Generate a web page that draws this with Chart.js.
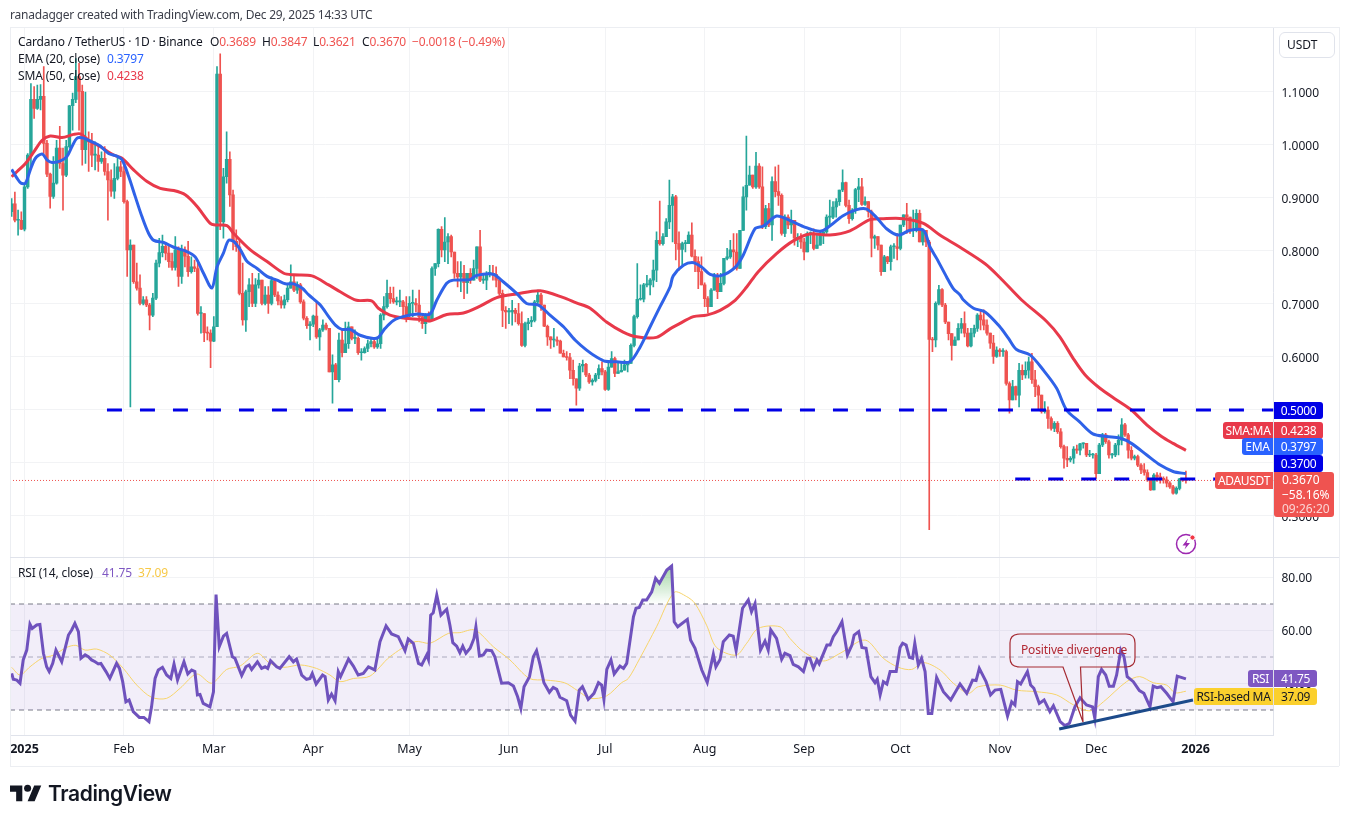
<!DOCTYPE html>
<html>
<head>
<meta charset="utf-8">
<title>ADAUSDT</title>
<script src="https://cdn.jsdelivr.net/npm/chart.js@4"></script>
<style>
  html, body { margin: 0; padding: 0; background: #fff; overflow: hidden; }
  #wrap { position: relative; width: 1349px; height: 823px; font: 12px "Noto Sans", sans-serif; color: #131722; }
  #wrap canvas { position: absolute; left: 0; top: 0; }
  .t { position: absolute; white-space: nowrap; line-height: 16px; letter-spacing: -0.15px; }
  .pill { position: absolute; color: #fff; line-height: 17px; height: 17px; text-align: center; box-sizing: border-box; white-space: nowrap; letter-spacing: -0.3px; }
  .r { color: #ef5350; }
  .rule { position: absolute; background: #e0e3eb; }
</style>
</head>
<body>
<div id="wrap">
  <canvas id="c" width="1349" height="823"></canvas>

  <div class="rule" style="left:10px;top:27px;width:1329px;height:1px;background:#eceef2"></div>
  <div class="rule" style="left:10px;top:27px;width:1px;height:739px;background:#eceef2"></div>
  <div class="rule" style="left:1339px;top:27px;width:1px;height:739px;background:#eceef2"></div>
  <div class="rule" style="left:10px;top:766px;width:1329px;height:1px;background:#eceef2"></div>
  <div class="rule" style="left:10px;top:557px;width:1329px;height:1px"></div>

  <div class="t" style="left:10px;top:7px;color:#3c3f4a;letter-spacing:-0.22px">ranadagger created with TradingView.com, Dec 29, 2025 14:33 UTC</div>
  <div class="t" style="left:18px;top:34px">Cardano / TetherUS · 1D · Binance</div>
  <div class="t" style="left:210px;top:34px">O<span class="r">0.3689</span></div>
  <div class="t" style="left:262px;top:34px">H<span class="r">0.3847</span></div>
  <div class="t" style="left:313px;top:34px">L<span class="r">0.3621</span></div>
  <div class="t" style="left:362px;top:34px">C<span class="r">0.3670</span></div>
  <div class="t r" style="left:412px;top:34px">−0.0018 (−0.49%)</div>
  <div class="t" style="left:18px;top:51px">EMA (20, close)</div>
  <div class="t" style="left:107px;top:51px;color:#2962ff">0.3797</div>
  <div class="t" style="left:18px;top:68px">SMA (50, close)</div>
  <div class="t" style="left:107px;top:68px;color:#e8394a">0.4238</div>
  <div class="t" style="left:18px;top:565px">RSI (14, close)</div>
  <div class="t" style="left:102px;top:565px;color:#7e57c2">41.75</div>
  <div class="t" style="left:138px;top:565px;color:#f7c948">37.09</div>

  <div style="position:absolute;left:1279px;top:32px;width:56px;height:26px;box-sizing:border-box;border:1px solid #e0e3eb;border-radius:6px;line-height:24px;padding-left:7px">USDT</div>

  <div class="pill" style="left:1274px;top:402px;width:49px;background:#0000e6;border-radius:0 3px 3px 0">0.5000</div>
  <div class="pill" style="left:1223px;top:422px;width:50px;background:#e8394a;border-radius:3px 0 0 3px">SMA:MA</div>
  <div class="pill" style="left:1274px;top:422px;width:49px;background:#e8394a;border-radius:0 3px 3px 0">0.4238</div>
  <div class="pill" style="left:1242px;top:438px;width:31px;background:#2962ff;border-radius:3px 0 0 3px">EMA</div>
  <div class="pill" style="left:1274px;top:438px;width:49px;background:#2962ff;border-radius:0 3px 3px 0">0.3797</div>
  <div class="pill" style="left:1274px;top:455px;width:49px;background:#0000e6;border-radius:0 3px 3px 0">0.3700</div>
  <div class="pill" style="left:1215px;top:472px;width:58px;background:#ef5350;border-radius:3px 0 0 3px">ADAUSDT</div>
  <div style="position:absolute;left:1274px;top:472px;width:60px;height:45px;background:#ef5350;border-radius:0 3px 3px 3px;color:#fff;padding-left:8px;box-sizing:border-box;line-height:14.5px;padding-top:1px">0.3670<br>−58.16%<br><span style="color:#fbd5d4">09:26:20</span></div>

  <div class="pill" style="left:1248px;top:670px;width:25px;background:#7e57c2;border-radius:3px 0 0 3px">RSI</div>
  <div class="pill" style="left:1274px;top:670px;width:43px;background:#7e57c2;border-radius:0 3px 3px 0">41.75</div>
  <div class="pill" style="left:1194px;top:688px;width:79px;background:#fbd02d;color:#131722;border-radius:3px 0 0 3px">RSI-based MA</div>
  <div class="pill" style="left:1274px;top:688px;width:43px;background:#fbd02d;color:#131722;border-radius:0 3px 3px 0">37.09</div>

  <svg style="position:absolute;left:0;top:0" width="1349" height="823">
    <path d="M1020 634 H1126 Q1135 634 1135 643 V658 Q1135 667 1126 667 H1080.5 L1083 722 L1063 667 H1020 Q1010 667 1010 658 V643 Q1010 634 1020 634 Z" fill="none" stroke="#a52a32" stroke-width="1.2"/>
    <circle cx="1186" cy="544" r="9.5" fill="none" stroke="#9c27b0" stroke-width="1.5"/>
    <path d="M1188 538.5 L1182.5 545.5 H1186 L1184.5 549.5 L1190 543 H1186.5 Z" fill="#9c27b0"/>
    <circle cx="1192.5" cy="537.5" r="2.6" fill="#f23645" stroke="#fff"/>
    <g transform="translate(10,782) scale(0.88)" fill="#131722">
      <path d="M14 22H7V11H0V4h14v18zM28 22h-8l7.5-18h8L28 22z"/><circle cx="20" cy="7" r="4"/>
    </g>
  </svg>
  <div class="t" style="left:1021px;top:642px;color:#b22833">Positive divergence</div>
  <div class="t" style="left:48px;top:782px;font:600 21px/24px Inter, sans-serif;letter-spacing:-0.4px">TradingView</div>
</div>

<script>
/* values; x is the candle number, 0 = Dec 28 2024 */
const closes = [
  .889,.858,.858,.841,.921,.981,1.086,1.069,1.086,1.092,
  1.003,.945,.903,.928,.994,.965,.943,.997,1.074,1.086,
  1.129,1.101,.991,1.009,1.006,.981,.981,.969,.975,.950,
  .934,.913,.937,.959,.950,.893,.802,.811,.742,.730,
  .701,.708,.698,.679,.711,.777,.797,.809,.796,.780,
  .769,.802,.752,.802,.790,.761,.770,.767,.682,.682,
  .646,.645,.630,.657,1.134,.855,.940,.973,.906,.818,
  .808,.720,.670,.723,.736,.701,.736,.745,.701,.717,
  .701,.744,.717,.706,.698,.708,.730,.742,.726,.736,
  .704,.673,.659,.662,.677,.638,.651,.660,.654,.572,
  .585,.557,.632,.608,.625,.657,.635,.635,.608,.608,
  .616,.625,.629,.619,.625,.679,.695,.720,.710,.704,
  .704,.704,.695,.679,.701,.701,.698,.676,.663,.679,
  .669,.767,.776,.841,.802,.817,.827,.798,.758,.751,
  .758,.740,.758,.745,.767,.808,.745,.745,.758,.758,
  .756,.745,.720,.688,.685,.685,.688,.682,.663,.622,
  .663,.666,.669,.704,.717,.698,.658,.638,.632,.632,
  .630,.607,.600,.599,.575,.559,.541,.583,.586,.566,
  .553,.556,.566,.578,.572,.539,.581,.597,.569,.572,
  .575,.585,.588,.622,.676,.709,.709,.736,.736,.745,
  .764,.820,.814,.827,.855,.886,.902,.814,.803,.814,
  .814,.830,.790,.780,.761,.736,.710,.695,.726,.754,
  .723,.739,.786,.789,.802,.798,.767,.839,.902,.924,
  .943,.921,.960,.921,.846,.880,.849,.931,.912,.905,
  .833,.864,.849,.858,.824,.824,.817,.798,.833,.833,
  .805,.811,.830,.836,.864,.864,.883,.893,.915,.929,
  .886,.861,.877,.916,.921,.888,.893,.874,.824,.827,
  .811,.761,.789,.780,.808,.808,.805,.849,.868,.864,
  .839,.839,.871,.817,.839,.817,.633,.632,.701,.727,
  .698,.666,.644,.622,.632,.654,.663,.645,.621,.645,
  .654,.679,.670,.660,.645,.626,.601,.613,.610,.610,
  .550,.519,.544,.528,.575,.566,.575,.591,.557,.544,
  .528,.497,.500,.484,.465,.475,.459,.431,.409,.406,
  .409,.426,.424,.436,.437,.415,.415,.415,.380,.434,
  .453,.440,.415,.415,.434,.443,.472,.453,.424,.409,
  .412,.396,.387,.382,.368,.349,.377,.374,.371,.368,
  .362,.355,.343,.352,.370,.3689,.3670
];
const highs = [
  .899,.911,.877,.874,.925,.984,1.116,1.110,1.113,1.114,
  1.148,1.009,.947,.978,1.009,1.035,.994,1.009,1.075,1.098,
  1.163,1.154,1.113,1.1,1.025,1.022,1.006,1.0,.987,.997,
  .965,.953,.965,.975,.969,.965,.896,.821,.811,.777,
  .755,.714,.714,.701,.72,.783,.824,.83,.815,.811,
  .796,.827,.808,.811,.808,.818,.789,.783,.777,.695,
  .682,.657,.651,.676,1.148,1.172,.956,1.025,.987,.915,
  .84,.818,.777,.726,.748,.758,.748,.758,.745,.733,
  .733,.751,.748,.723,.714,.717,.739,.774,.755,.742,
  .739,.708,.676,.667,.679,.704,.654,.670,.664,.654,
  .604,.588,.645,.651,.666,.666,.657,.651,.638,.616,
  .619,.632,.635,.632,.638,.682,.714,.745,.732,.732,
  .713,.726,.707,.714,.714,.726,.710,.726,.679,.682,
  .685,.770,.776,.842,.846,.863,.833,.830,.798,.780,
  .780,.773,.758,.767,.783,.808,.839,.758,.761,.773,
  .773,.770,.748,.726,.695,.692,.707,.692,.701,.685,
  .666,.673,.676,.707,.726,.720,.695,.660,.638,.654,
  .638,.632,.613,.610,.607,.594,.559,.588,.594,.588,
  .569,.559,.569,.585,.591,.575,.588,.610,.600,.591,
  .591,.594,.591,.625,.679,.776,.736,.739,.754,.748,
  .783,.836,.894,.833,.861,.934,.907,.905,.836,.817,
  .820,.836,.853,.802,.789,.789,.740,.714,.729,.758,
  .758,.758,.786,.805,.820,.833,.833,.839,.921,1.017,
  .960,.943,.986,.965,.959,.886,.890,.940,.959,.962,
  .908,.868,.868,.877,.855,.833,.833,.824,.836,.836,
  .842,.833,.839,.836,.868,.896,.893,.899,.915,.953,
  .930,.896,.880,.918,.937,.937,.902,.893,.877,.830,
  .827,.811,.792,.790,.811,.814,.833,.849,.868,.890,
  .864,.877,.878,.877,.842,.839,.820,.637,.704,.735,
  .729,.701,.666,.644,.638,.663,.673,.685,.654,.654,
  .660,.682,.690,.689,.670,.645,.641,.619,.616,.616,
  .613,.553,.556,.545,.588,.585,.591,.600,.607,.575,
  .547,.528,.516,.506,.487,.478,.478,.465,.434,.431,
  .412,.431,.434,.437,.438,.437,.424,.418,.418,.437,
  .456,.456,.443,.418,.437,.453,.484,.475,.456,.431,
  .415,.415,.399,.399,.387,.371,.380,.382,.381,.374,
  .374,.365,.358,.355,.371,.371,.3847
];
const lows = [
  .865,.855,.830,.840,.838,.918,.959,1.05,1.067,1.066,
  .984,.940,.881,.899,.926,.956,.877,.940,.994,1.028,
  1.08,1.028,.962,.965,.950,.959,.953,.95,.965,.943,
  .858,.903,.899,.934,.94,.89,.752,.506,.739,.726,
  .698,.698,.695,.651,.676,.708,.770,.789,.783,.769,
  .764,.764,.733,.739,.77,.752,.758,.761,.679,.645,
  .629,.632,.580,.629,.657,.840,.824,.928,.884,.802,
  .799,.717,.66,.648,.695,.695,.695,.730,.698,.698,
  .682,.698,.714,.698,.692,.692,.704,.739,.723,.72,
  .701,.670,.654,.632,.657,.635,.613,.648,.651,.572,
  .513,.557,.553,.600,.616,.616,.632,.625,.605,.594,
  .607,.610,.619,.616,.616,.616,.670,.692,.701,.701,
  .698,.695,.676,.666,.676,.676,.685,.666,.654,.644,
  .666,.669,.754,.770,.789,.780,.776,.789,.748,.732,
  .723,.710,.720,.739,.745,.748,.742,.739,.727,.751,
  .745,.732,.717,.657,.654,.663,.660,.666,.660,.620,
  .619,.651,.657,.666,.698,.688,.657,.622,.616,.619,
  .622,.607,.600,.594,.559,.547,.509,.537,.572,.563,
  .550,.547,.553,.559,.566,.537,.537,.581,.563,.569,
  .572,.575,.572,.588,.619,.673,.707,.704,.732,.717,
  .732,.742,.811,.811,.827,.842,.817,.783,.764,.773,
  .798,.817,.789,.761,.729,.736,.695,.683,.695,.726,
  .710,.723,.736,.783,.786,.767,.764,.767,.839,.877,
  .927,.918,.918,.918,.842,.842,.846,.820,.902,.886,
  .830,.827,.842,.833,.811,.808,.805,.783,.798,.814,
  .802,.808,.817,.814,.833,.849,.861,.864,.886,.912,
  .883,.852,.858,.871,.893,.886,.886,.864,.789,.805,
  .802,.754,.761,.776,.764,.786,.783,.802,.846,.833,
  .833,.827,.836,.817,.811,.808,.274,.610,.619,.698,
  .695,.663,.632,.594,.622,.632,.645,.638,.619,.619,
  .638,.648,.651,.651,.641,.616,.588,.599,.601,.601,
  .547,.494,.519,.519,.506,.557,.560,.560,.550,.525,
  .500,.494,.494,.465,.462,.459,.456,.428,.390,.393,
  .402,.399,.418,.415,.428,.412,.412,.409,.371,.380,
  .431,.437,.409,.409,.412,.415,.434,.450,.409,.406,
  .406,.393,.380,.377,.365,.348,.349,.365,.362,.362,
  .355,.352,.341,.341,.349,.365,.3621
];
const firstOpen = .874;

const emaX = [0,1.7,2.9,4.3,5.8,7.4,9.5,11,12.6,15.2,17.2,18.8,20.4,22.4,25,27.6,30.2,32.8,34.4,36.5,38.5,40.6,42.7,44.3,47.4,50.5,54.6,57.2,59.8,62.4,64,66,67.6,69.2,71.3,73.4,76.5,79.6,82.7,85.3,87.9,90.5,92.6,96.2,98.8,100.9,102.9,105.5,108.6,112.7,114.3,116.4,119,122.6,126.8,130.4,132.5,135.6,137.7,142.9,144.9,150.1,153.2,157.4,160.5,164.2,167.8,172,175.6,179.2,182.3,185,188.6,192.7,195.9,199,202.1,205.2,206.2,209.4,212.5,215,217.7,221.3,225.5,228,231.7,234.3,238.4,242,246.8,251.9,255,259,263.4,266.5,269.6,272.7,276.4,280,284.2,286.2,288.3,291.4,293.5,295.6,296.6,299.8,303.4,308,310.7,313.2,317.4,321.6,325.7,328.8,332.8,337,341.3,345.4,349,353.8,358,362,366];
const emaY = [.954,.937,.928,.928,.953,.975,.983,.972,.967,.970,.978,.997,1.013,1.013,1.006,.998,.984,.979,.972,.940,.903,.865,.833,.820,.816,.807,.799,.789,.758,.730,.770,.796,.820,.818,.802,.780,.767,.752,.745,.738,.738,.730,.717,.698,.676,.660,.652,.652,.641,.635,.637,.654,.669,.677,.681,.681,.707,.739,.745,.746,.754,.756,.742,.720,.701,.698,.679,.657,.632,.613,.600,.592,.591,.591,.619,.657,.695,.732,.753,.773,.778,.770,.756,.754,.769,.792,.842,.847,.866,.859,.846,.837,.847,.866,.878,.879,.863,.842,.830,.839,.839,.808,.786,.751,.729,.717,.708,.692,.685,.657,.635,.614,.604,.575,.541,.500,.478,.455,.450,.447,.437,.415,.396,.384,.3797];

const smaX = [0,1.7,4.3,6.9,9.5,12,15.7,19.3,21.4,24,27.6,31.8,34.4,38,42.2,46.3,50.5,54.1,57.8,61.9,63.5,67.1,69.2,74.4,79.6,84.8,87.9,93.6,98.8,102.4,107.5,112.2,114.3,117.9,122.6,127.3,130.4,135.6,140.8,146,151.2,157.4,164.7,172,176,180.3,185.4,190.6,194.8,201,205.2,207.3,212.5,216.6,220.8,225.5,229.1,232.7,238.4,243.6,248.8,255,261.3,267.5,271.7,278,284.2,289.3,295.6,303.4,308,314.8,322.6,326.7,330.9,334.6,339.2,344.4,349,353.8,358.4,362,366];
const smaY = [.940,.950,.965,.987,1.009,1.017,1.014,1.020,1.021,1.009,.997,.981,.975,.953,.931,.918,.914,.906,.884,.852,.849,.848,.833,.802,.780,.758,.755,.753,.736,.723,.707,.706,.692,.679,.673,.671,.668,.680,.683,.696,.712,.719,.725,.712,.702,.692,.666,.647,.638,.637,.653,.660,.676,.679,.688,.707,.732,.761,.795,.819,.832,.830,.838,.859,.861,.861,.852,.830,.807,.776,.750,.7075,.667,.638,.597,.566,.541,.519,.500,.472,.450,.437,.4238];

const rsiX = [0,.5,1.6,2.6,3.6,4.7,5.7,6.4,7.8,8.8,9.9,10.9,11.7,12.8,13.8,15.6,17.7,18.7,19.7,20.8,21.6,22.9,23.9,24.9,26,27,27.8,29.4,30.6,32.7,33.6,34.6,35.6,36.6,37.9,39.8,41.2,42.8,43.6,44.7,45.7,47,48.3,49.6,50.6,51.7,53.7,54.9,56.1,57.1,57.9,58.7,59.7,61.8,62.9,63.7,64.7,66,67,68.8,69.6,71.7,73,74,74.8,76.6,77.9,79,79.8,80.7,82.6,83.6,86.5,87.8,88.8,90.4,91.9,93,93.7,94.9,96.9,97.7,98.7,99.7,100.8,101.8,102.5,105,106.5,108,109.6,111.2,112.2,113.2,114.8,116.7,118.4,120.5,122.6,123.6,125.2,126.8,127.8,129.4,129.9,130.6,131.4,132.5,133.8,135.6,136.6,137.5,138.7,139.7,140.6,141.6,142.9,144.1,144.7,145.8,147,148,149.6,150.6,152.7,154.8,156.4,157.7,158.7,159.7,161.4,162.6,163.6,164.7,165.9,167.6,168.8,169.9,170.9,173,174.2,175.6,176.9,177.9,179.7,181.5,182.9,183.9,184.6,185.5,186.8,187.8,189.6,190.7,191.7,193.8,194.6,195.6,196.7,197.9,199.5,200.7,201.9,204.2,205.7,206.5,207.6,210.6,211.6,213,215.1,216.8,218.7,219.5,220.8,221.8,223.7,224.9,225.8,227.8,229.6,230.6,231.7,233.4,234.8,235.8,236.6,238.4,240,241,242.6,243.6,245.2,246.8,248,248.8,249.9,251,251.7,254.1,255.1,256.1,257.2,258.8,260.5,261.9,262.6,264,265,266.3,267.8,269.1,269.8,270.7,271.7,272.8,273.8,275.7,276.9,277.7,278.8,279.8,280.8,281.5,282.6,283.6,284.7,285.7,286.8,288.3,290.4,292.7,295.6,297.7,299.5,300.6,301.6,303.7,305.1,306.5,308.3,310.4,311.7,312.7,313.5,314.5,316.6,317.6,318.6,320.3,321.8,323.6,324.7,326.8,328.3,329.7,331.4,333,335,336.9,337.6,338.7,339.7,341,342.1,343.4,344.4,345.7,346.7,347.7,349.6,351.5,352.9,354.8,355.8,357,358.2,360,362,363.3,366];
const rsiY = [43.8,41.6,41.3,40.1,48.9,52.6,62.4,60.8,62.1,62.3,51.4,46.3,44.5,47.6,52.6,48.2,58.3,60.2,62.7,59.6,49.5,50.8,50.1,48.9,48.2,47.4,47.6,44.5,41.9,47.6,45.7,40.7,33.1,33.8,29.4,27.2,27.2,25.6,31.2,41.9,45.1,46.1,43.2,41.9,47.4,41.3,48.2,43.6,45.1,44.5,35.7,35.9,32.5,31.2,36.9,73.6,53.9,57.9,58.9,50.1,49.5,43,46.3,47,45.3,48.2,45.7,46.3,45.7,48.6,46.3,45.7,50.1,48.2,49.2,43.2,41.6,41.9,43.8,39.8,43.2,42.6,33.8,36,33.5,44.5,42.6,49.2,46.6,43.2,43.8,46.3,45.7,45.1,55.8,61.7,58.7,57.7,52.4,56.8,55.2,47.6,47,50.8,49.1,65.8,66.7,73.4,65.8,68,62,55.4,54.1,51.6,54.1,51.4,53.3,57,61.4,50.4,50.8,52.6,52.4,50.1,40.1,40.3,39.1,35,30.6,38.8,42.6,50.1,52.4,47,40.3,36.7,38.5,37.8,34.8,33.5,28.1,25.8,37.5,38.8,34,36.3,40.3,39.4,34,45.3,48.9,43.6,46.6,45.7,47.6,65.2,68.4,68.7,71.5,71.5,74.6,79.7,77.8,82.8,84.3,63.3,61.4,64.2,56.4,53.3,45.1,40.4,51,46.3,49.1,55.8,58.3,57.9,52.4,68.4,71.5,67.1,70.2,52.6,56,52.6,60.2,57,49.1,51.4,50.5,47.2,46.3,44.5,49.5,49.5,45.7,48.9,47.4,54.5,54.5,57.7,59.6,63.3,50.8,54.5,58.3,59.6,53.6,53.3,42.6,40.3,41.6,35.7,40.7,39.8,44.5,44.5,53.6,55.2,54.5,49.9,49.5,55.2,47,49.5,44.5,28.7,28.7,42.3,36.9,33.8,39.8,36.3,41.3,41.1,45.7,40.7,35.7,37.5,37.8,27.7,33.1,31.9,40.7,39.8,44.5,39.4,38.2,32.5,33.8,29.4,31.6,25.6,24.1,25,31.2,34.6,31.9,31.2,26.9,42.6,45.3,43.2,39,39,43.2,52.6,50.1,42.6,40.7,37.3,36.3,31.2,39,38.4,38.8,36.3,33.1,42.8,41.75];

const rsiMaX = [0,2.6,5.7,9.4,13,17.1,20,22.9,26.5,30.6,34.8,39,43.6,48.3,52.5,57.7,62.3,67,71.2,76.6,80.5,84.7,90,95,99.2,102.3,106.5,111.7,117.9,125.7,130.4,136.1,139.7,144.4,150.1,155.3,161.4,166.6,172.3,176.4,180.3,185.4,190.1,192.2,195.8,201,206.5,210.4,213,216.6,219.7,225.8,229.1,232.7,239.5,242.6,246.8,253,258.2,266,271.7,276.4,280.5,284.2,289.4,293.5,298.2,301.3,308.1,313.2,319.5,325.7,331,336.1,340.3,347.5,351.6,355.8,360,362.6,366];
const rsiMaY = [46.1,43.2,46.3,49.5,50.7,53.6,54.4,52.6,53,50.7,45.7,39.4,34.8,34.4,38.2,43.6,40.1,45.3,46.6,51.4,47.6,46.1,47,45.7,43.2,40.7,41.9,42.8,50.1,55.8,55.2,58.9,59.2,60.2,53.9,48.9,41.9,41.3,40.3,37.3,34.4,35.3,40.3,41.9,49.5,61.4,74.4,72.8,70.2,62,53.6,50.7,55.2,60.8,61.4,57,52,48.5,51.4,56.4,49.5,46.1,45.3,47.9,45.1,40.1,36.3,38.8,39.4,37.5,36.9,35.7,31.9,29.7,33.1,40.7,42.6,40.3,39.4,36.5,37.09];

const priceTicks = [1.1,1,.9,.8,.7,.6,.5,.4,.3];
const rsiTicks = [80,60,40];
const xTicks = [4,35,63,94,124,155,185,216,247,277,308,338,369];
const xLabels = ['2025','Feb','Mar','Apr','May','Jun','Jul','Aug','Sep','Oct','Nov','Dec','2026'];

const support = .37, resistance = .5, lastPrice = .367;
const xMin = -0.52, xMax = 393.3;

const opens = closes.map((c, i) => i ? closes[i - 1] : firstOpen);
const candleColor = closes.map((c, i) => c >= opens[i] ? '#26a69a' : '#ef5350');
const pts = (xs, ys) => xs.map((x, i) => ({ x: x, y: ys[i] }));
const flat = (from, to, y) => [{ x: from, y: y }, { x: to, y: y }];
const overbought = rsiX.map((x, i) => ({ x: x, y: rsiY[i] })).filter(p => p.y > 70 && p.x > 190 && p.x < 206);

const hidden = { pointRadius: 0, pointHoverRadius: 0, fill: false };
const fixY = w => s => { s.width = w; };

new Chart(document.getElementById('c'), {
  type: 'bar',
  data: {
    datasets: [
      // price pane
      { type: 'line', yAxisID: 'y', order: 1, data: flat(29.7, xMax, resistance), borderColor: '#0000e6', borderWidth: 3, borderDash: [15, 18], ...hidden },
      { type: 'line', yAxisID: 'y', order: 1, data: flat(312.8, xMax, support), borderColor: '#0000e6', borderWidth: 3, borderDash: [15, 18], ...hidden },
      { type: 'line', yAxisID: 'y', order: 2, data: pts(emaX, emaY), borderColor: '#2f62e8', borderWidth: 3, tension: .3, ...hidden },
      { type: 'line', yAxisID: 'y', order: 3, data: pts(smaX, smaY), borderColor: '#e8394a', borderWidth: 3, tension: .3, ...hidden },
      { type: 'line', yAxisID: 'y', order: 4, data: flat(xMin, xMax, lastPrice), borderColor: '#ef5350', borderWidth: 1, borderDash: [1, 2], ...hidden },
      { yAxisID: 'y', order: 5, grouped: false, barThickness: 2.8, minBarLength: 1,
        data: closes.map((c, i) => ({ x: i, y: [opens[i], c] })), backgroundColor: candleColor },
      { yAxisID: 'y', order: 6, grouped: false, barThickness: 1,
        data: closes.map((c, i) => ({ x: i, y: [Math.min(lows[i], opens[i], c), Math.max(highs[i], opens[i], c)] })), backgroundColor: candleColor },
      // rsi pane
      { type: 'line', yAxisID: 'rsi', order: 10, data: flat(xMin, xMax, 70), borderColor: '#787b86', borderWidth: 1, borderDash: [5, 4],
        pointRadius: 0, fill: { target: { value: 30 } }, backgroundColor: 'rgba(126,87,194,.1)' },
      { type: 'line', yAxisID: 'rsi', order: 10, data: flat(xMin, xMax, 50), borderColor: '#b2b5be', borderWidth: 1, borderDash: [5, 4], ...hidden },
      { type: 'line', yAxisID: 'rsi', order: 10, data: flat(xMin, xMax, 30), borderColor: '#787b86', borderWidth: 1, borderDash: [5, 4], ...hidden },
      { type: 'line', yAxisID: 'rsi', order: 9, data: overbought, borderWidth: 0, pointRadius: 0, fill: { target: { value: 70 } },
        backgroundColor: c => {
          const a = c.chart.chartArea, s = c.chart.scales.rsi;
          if (!a || !s) return 'rgba(76,175,80,.3)';
          const g = c.chart.ctx.createLinearGradient(0, s.getPixelForValue(85), 0, s.getPixelForValue(70));
          g.addColorStop(0, 'rgba(76,175,80,.55)');
          g.addColorStop(1, 'rgba(76,175,80,0)');
          return g;
        } },
      { type: 'line', yAxisID: 'rsi', order: 8, data: pts(rsiMaX, rsiMaY), borderColor: '#f7d46b', borderWidth: 1, tension: .3, ...hidden },
      { type: 'line', yAxisID: 'rsi', order: 7, data: pts(rsiX, rsiY), borderColor: '#6f52bd', borderWidth: 3, ...hidden },
      { type: 'line', yAxisID: 'rsi', order: 6, data: [{ x: 326.5, y: 22.8 }, { x: 368.2, y: 33.8 }], borderColor: '#1c4a8a', borderWidth: 3, ...hidden }
    ]
  },
  options: {
    responsive: false,
    animation: false,
    events: [],
    layout: { padding: { left: 10, top: 27, right: 10, bottom: 57 } },
    plugins: { legend: { display: false }, tooltip: { enabled: false } },
    scales: {
      x: {
        type: 'linear', min: xMin, max: xMax, offset: false,
        afterBuildTicks: s => { s.ticks = xTicks.map(v => ({ value: v })); },
        afterFit: s => { s.height = 31; },
        grid: { offset: false, color: '#f2f3f5', drawTicks: false },
        border: { color: '#e0e3eb' },
        ticks: {
          autoSkip: false, maxRotation: 0, padding: 7, color: '#131722',
          font: c => ({ family: 'Noto Sans', size: 12.5, weight: (c.tick && (c.tick.value === 4 || c.tick.value === 369)) ? '700' : '400' }),
          callback: v => xLabels[xTicks.indexOf(v)]
        }
      },
      y: {
        type: 'linear', position: 'right', stack: 'panes', stackWeight: 530, weight: 0,
        min: .2226, max: 1.2226,
        afterBuildTicks: s => { s.ticks = priceTicks.map(v => ({ value: v })); },
        afterFit: fixY(65.5),
        grid: { color: '#f2f3f5', drawTicks: false },
        border: { color: '#e0e3eb' },
        ticks: { padding: 8, labelOffset: 2, color: '#131722', font: { family: 'Noto Sans', size: 12 }, callback: v => v.toFixed(4) }
      },
      rsi: {
        type: 'linear', position: 'right', stack: 'panes', stackWeight: 178, weight: 1,
        min: 20.57, max: 87.74,
        afterBuildTicks: s => { s.ticks = rsiTicks.map(v => ({ value: v })); },
        afterFit: fixY(65.5),
        grid: { color: '#f2f3f5', drawTicks: false },
        border: { color: '#e0e3eb' },
        ticks: { padding: 8, labelOffset: 1.5, color: '#131722', font: { family: 'Noto Sans', size: 12 }, callback: v => v.toFixed(2) }
      }
    }
  }
});
</script>
</body>
</html>
